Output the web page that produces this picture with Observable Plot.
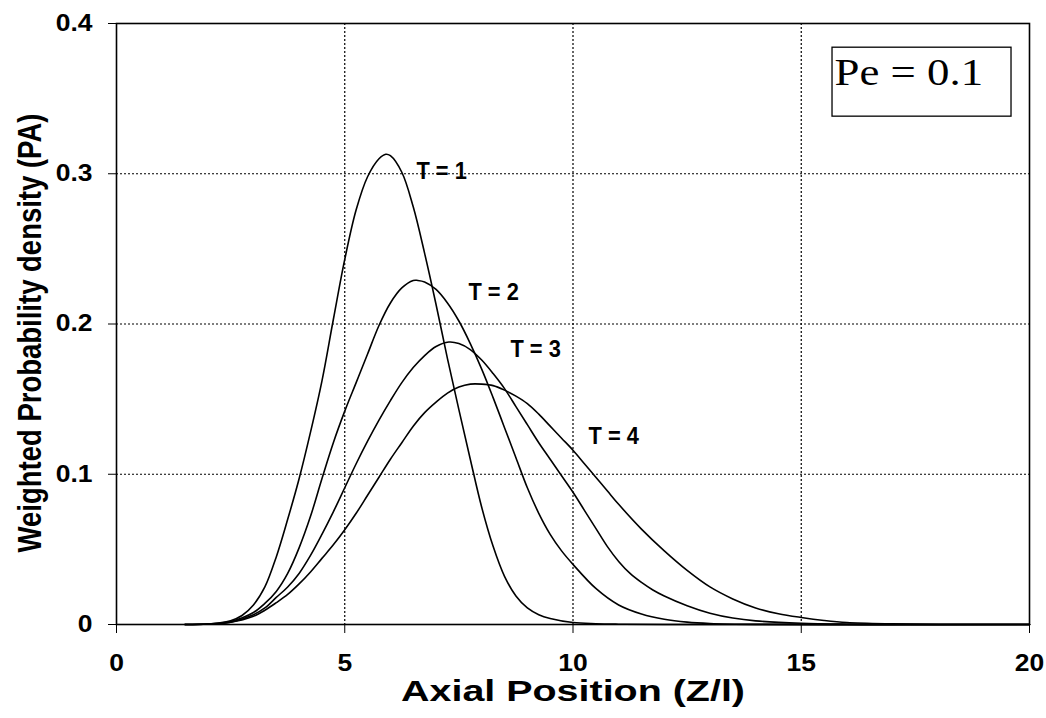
<!DOCTYPE html>
<html>
<head>
<meta charset="utf-8">
<script src="https://cdn.jsdelivr.net/npm/d3@7"></script>
<script src="https://cdn.jsdelivr.net/npm/@observablehq/plot@0.6"></script>
<style>
  html, body { margin: 0; padding: 0; background: #fff; }
  #chart { width: 1046px; height: 718px; }
</style>
</head>
<body>
<div id="chart"></div>
<script>
// ---- data ----
const t1X = [1.5, 2.0, 2.25, 2.5, 2.75, 3.0, 3.25, 3.5, 3.75, 4.0, 4.25, 4.5, 4.75, 5.0, 5.25, 5.5, 5.75, 5.9, 6.0, 6.25, 6.5, 6.75, 7.0, 7.25, 7.5, 7.75, 8.0, 8.25, 8.5, 8.75, 9.0, 9.25, 9.5, 10.0, 10.5, 11.0, 12.0, 20];
const t1Y = [0, 0.0003, 0.001, 0.0025, 0.006, 0.013, 0.025, 0.045, 0.070, 0.097, 0.128, 0.162, 0.203, 0.243, 0.276, 0.298, 0.310, 0.313, 0.312, 0.301, 0.278, 0.247, 0.213, 0.177, 0.143, 0.110, 0.078, 0.052, 0.032, 0.019, 0.011, 0.0065, 0.004, 0.0013, 0.0005, 0.0002, 0, 0];

const t2X = [1.5, 2.0, 2.5, 3.0, 3.25, 3.5, 3.75, 4.0, 4.25, 4.5, 4.75, 5.0, 5.25, 5.5, 5.75, 6.0, 6.25, 6.5, 6.6, 6.75, 7.0, 7.25, 7.5, 7.75, 8.0, 8.25, 8.5, 8.75, 9.0, 9.25, 9.5, 9.75, 10.0, 10.5, 11.0, 11.5, 12.0, 12.5, 13.0, 14.0, 20];
const t2Y = [0, 0.0003, 0.002, 0.008, 0.014, 0.022, 0.034, 0.051, 0.072, 0.097, 0.121, 0.142, 0.161, 0.180, 0.199, 0.214, 0.224, 0.229, 0.229, 0.228, 0.223, 0.214, 0.202, 0.187, 0.170, 0.151, 0.131, 0.111, 0.091, 0.074, 0.060, 0.049, 0.040, 0.024, 0.013, 0.007, 0.0035, 0.0016, 0.0007, 0.0001, 0];

const t3X = [1.5, 2.0, 2.5, 3.0, 3.25, 3.5, 3.75, 4.0, 4.25, 4.5, 4.75, 5.0, 5.25, 5.5, 5.75, 6.0, 6.25, 6.5, 6.75, 7.0, 7.28, 7.5, 7.75, 8.0, 8.25, 8.5, 8.75, 9.0, 9.25, 9.5, 9.75, 10.0, 10.25, 10.5, 10.75, 11.0, 11.25, 11.5, 11.75, 12.0, 12.5, 13.0, 13.5, 14.0, 15.0, 16.0, 17.0, 20];
const t3Y = [0, 0.0003, 0.0015, 0.0065, 0.011, 0.018, 0.025, 0.034, 0.046, 0.060, 0.075, 0.091, 0.107, 0.122, 0.136, 0.149, 0.161, 0.171, 0.179, 0.185, 0.188, 0.187, 0.183, 0.176, 0.167, 0.157, 0.145, 0.133, 0.121, 0.110, 0.099, 0.088, 0.076, 0.064, 0.052, 0.042, 0.034, 0.028, 0.023, 0.019, 0.0125, 0.0075, 0.0043, 0.0024, 0.0008, 0.0002, 0, 0];

const t4X = [1.5, 2.0, 2.5, 3.0, 3.25, 3.5, 3.75, 4.0, 4.25, 4.5, 4.75, 5.0, 5.25, 5.5, 5.75, 6.0, 6.25, 6.5, 6.75, 7.0, 7.25, 7.5, 7.75, 8.0, 8.25, 8.5, 8.75, 9.0, 9.25, 9.5, 9.75, 10.0, 10.25, 10.5, 10.75, 11.0, 11.5, 12.0, 12.5, 13.0, 13.5, 14.0, 14.5, 15.0, 15.5, 16.0, 17.0, 18.0, 20];
const t4Y = [0, 0.0003, 0.0015, 0.0055, 0.0095, 0.0145, 0.020, 0.027, 0.035, 0.044, 0.053, 0.063, 0.074, 0.086, 0.098, 0.110, 0.121, 0.132, 0.141, 0.148, 0.154, 0.158, 0.160, 0.160, 0.159, 0.156, 0.152, 0.147, 0.140, 0.132, 0.124, 0.116, 0.107, 0.098, 0.089, 0.080, 0.0635, 0.049, 0.036, 0.025, 0.017, 0.011, 0.0072, 0.0047, 0.0027, 0.0013, 0.0004, 0, 0];

const seriesNames = ["T = 1", "T = 2", "T = 3", "T = 4"];
const labelX = [6.57, 7.71, 8.63, 10.34];
const labelY = [0.3014, 0.2209, 0.183, 0.125];

const xTicks = [0, 5, 10, 15, 20];
const yTicks = [0, 0.1, 0.2, 0.3, 0.4];
const xGrid = [5, 10, 15];
const yGrid = [0.1, 0.2, 0.3];

const xTitle = "Axial Position (Z/l)";
const yTitle = "Weighted Probability density (PA)";
const boxText = "Pe = 0.1";
const boxX = [15.685, 19.606];
const boxY = [0.338, 0.3839];
const boxTextX = [15.73];
const boxTextY = [0.3673];

// ---- build tables ----
const xs = [t1X, t2X, t3X, t4X];
const ys = [t1Y, t2Y, t3Y, t4Y];
const rows = [];
seriesNames.forEach((name, i) => {
  xs[i].forEach((x, j) => rows.push({T: name, x, y: ys[i][j]}));
});
const labels = seriesNames.map((name, i) => ({T: name, x: labelX[i], y: labelY[i]}));
const box = [{x1: boxX[0], x2: boxX[1], y1: boxY[0], y2: boxY[1]}];
const boxLabel = [{x: boxTextX[0], y: boxTextY[0], text: boxText}];

const font = "'Liberation Sans', Arial, sans-serif";

const chart = Plot.plot({
  width: 1046,
  height: 718,
  marginLeft: 116,
  marginRight: 17,
  marginTop: 23,
  marginBottom: 94,
  style: {fontFamily: font, background: "#fff", color: "#000"},
  x: {domain: [0, 20]},
  y: {domain: [0, 0.4]},
  marks: [
    Plot.gridX(xGrid, {stroke: "#000", strokeOpacity: 1, strokeWidth: 1.2, strokeDasharray: "2,2"}),
    Plot.gridY(yGrid, {stroke: "#000", strokeOpacity: 1, strokeWidth: 1.2, strokeDasharray: "2,2"}),
    Plot.axisX({ticks: xTicks, tickSize: 9, tickPadding: 21, fontSize: 23, fontWeight: "bold", label: null, tickFormat: d => String(d)}),
    Plot.axisY({ticks: yTicks, tickSize: 8, tickPadding: 16, fontSize: 23, fontWeight: "bold", label: null, tickFormat: d => String(d)}),
    Plot.line(rows, {x: "x", y: "y", z: "T", stroke: "#000", strokeWidth: 1.6, curve: "catmull-rom"}),
    Plot.text(labels, {x: "x", y: "y", text: "T", textAnchor: "start", fontSize: 23, fontWeight: "bold", fill: "#000"}),
    Plot.rect(box, {x1: "x1", x2: "x2", y1: "y1", y2: "y2", fill: "#fff", stroke: "#000", strokeWidth: 1.3}),
    Plot.text(boxLabel, {x: "x", y: "y", text: "text", textAnchor: "start", fontFamily: "'Liberation Serif', 'Times New Roman', serif", fontSize: 39, fill: "#000"}),
    Plot.frame({stroke: "#000", strokeWidth: 1.6}),
    Plot.text([xTitle], {frameAnchor: "bottom", dy: 67, lineAnchor: "middle", textAnchor: "middle", fontSize: 29, fontWeight: "bold", fill: "#000"}),
    Plot.text([yTitle], {frameAnchor: "left", dx: -86, dy: 9, rotate: -90, lineAnchor: "middle", textAnchor: "middle", fontSize: 27.5, fontWeight: "bold", fill: "#000"})
  ]
});
document.getElementById("chart").appendChild(chart);

// widen glyphs horizontally to match the reference's lettering
function scaleText(t, s, rotated) {
  const tf = t.getAttribute("transform") || "";
  t.setAttribute("transform", tf + (rotated ? ` scale(1,${s})` : ` scale(${s},1)`));
}
chart.querySelectorAll("text").forEach(t => {
  const s = t.textContent;
  const g = t.closest("g[aria-label]");
  const aria = g ? g.getAttribute("aria-label") : "";
  if (s === xTitle) scaleText(t, 1.36, false);
  else if (s === yTitle) scaleText(t, 1.18, true);
  else if (s === boxText) scaleText(t, 1.15, false);
  else if (seriesNames.includes(s)) scaleText(t, 0.95, false);
  else if (/tick/.test(aria) || /axis/.test(aria)) scaleText(t, 1.15, false);
});
</script>
</body>
</html>
